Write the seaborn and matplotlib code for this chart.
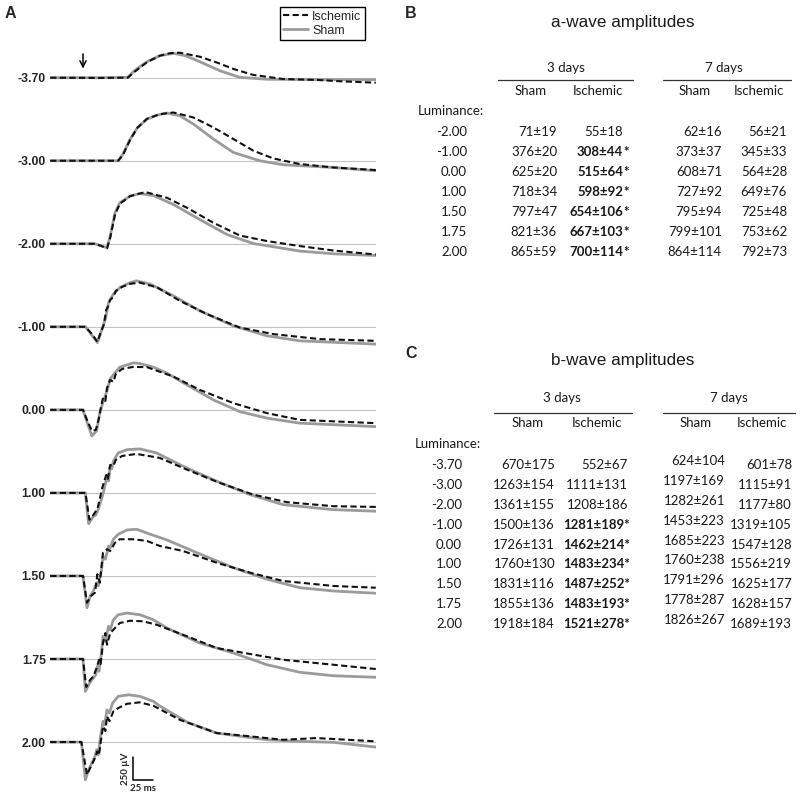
import matplotlib
matplotlib.use('Agg')
import matplotlib.pyplot as plt
import numpy as np
import pandas as pd
import seaborn as sns
from matplotlib.lines import Line2D

sns.set_style('white')
plt.rcParams['font.family'] = ['Liberation Sans', 'DejaVu Sans']

# ---------------- Panel A: ERG traces (time in ms from flash, amplitude in µV) ----------------
trace_lums = ['-3.70', '-3.00', '-2.00', '-1.00', '0.00', '1.00', '1.50', '1.75', '2.00']

sham_m370 = [(-41,0),(21,0),(56,4),(63,66),(71,121),(80,176),(96,242),(113,268),(128,242),(146,176),(171,77),(196,4),(230,-17),(271,-20),(366,-22)]
isch_m370 = [(-41,0),(21,-3),(56,0),(63,55),(71,110),(80,170),(96,242),(109,270),(121,275),(146,231),(168,165),(188,96),(213,30),(250,-14),(293,-25),(321,-39),(366,-55)]

sham_m300 = [(-41,0),(44,0),(50,74),(59,239),(68,363),(80,459),(93,503),(105,525),(121,495),(138,404),(163,239),(188,91),(221,0),(250,-44),(313,-74),(366,-110)]
isch_m300 = [(-41,0),(44,0),(50,66),(59,231),(68,363),(80,462),(96,512),(113,531),(138,476),(163,366),(188,239),(213,110),(238,25),(271,-36),(313,-74),(366,-102)]

sham_m200 = [(-41,0),(15,0),(23,-22),(30,-44),(34,85),(40,341),(46,451),(59,525),(71,553),(88,531),(113,432),(146,267),(180,102),(213,3),(271,-80),(313,-110),(366,-129)]
isch_m200 = [(-41,0),(15,0),(23,-25),(30,-50),(34,66),(40,319),(46,440),(59,525),(78,569),(105,506),(130,396),(163,231),(196,91),(230,30),(271,-25),(313,-74),(366,-118)]

sham_m100 = [(-41,0),(3,0),(11,-88),(18,-173),(23,-44),(28,85),(32,267),(38,360),(46,432),(59,487),(67,506),(84,470),(113,341),(146,176),(188,11),(230,-99),(271,-154),(366,-190)]
isch_m100 = [(-41,0),(3,0),(11,-77),(18,-165),(22,-66),(26,22),(29,187),(31,220),(34,297),(38,330),(41,396),(49,440),(59,473),(71,487),(93,432),(121,286),(155,140),(196,-8),(238,-80),(296,-135),(366,-154)]

sham_000 = [(-41,0),(0,0),(5,-132),(11,-286),(17,-231),(21,-33),(25,85),(30,209),(34,341),(39,396),(46,470),(63,517),(71,510),(88,470),(105,404),(130,275),(163,110),(196,-19),(230,-91),(271,-146),(366,-184)]
isch_000 = [(-41,0),(0,0),(5,-110),(11,-231),(16,-220),(20,-88),(23,55),(25,132),(28,99),(30,242),(34,330),(38,308),(41,396),(49,451),(63,473),(80,470),(113,366),(146,220),(188,74),(230,-36),(271,-110),(366,-146)]

sham_100 = [(-41,0),(3,0),(7,-338),(13,-256),(16,-242),(19,-184),(23,-74),(26,22),(30,184),(32,132),(34,294),(36,264),(38,349),(44,440),(55,476),(71,484),(92,440),(125,294),(167,129),(209,-19),(250,-129),(313,-184),(366,-201)]
isch_100 = [(-41,0),(3,0),(8,-294),(13,-242),(18,-176),(21,-66),(24,55),(26,110),(29,198),(31,154),(34,308),(38,297),(41,363),(49,407),(67,429),(96,385),(130,256),(171,110),(213,-19),(255,-102),(313,-146),(366,-154)]

sham_150 = [(-41,0),(0,0),(5,-349),(9,-220),(13,-165),(17,-74),(19,-110),(23,55),(25,220),(28,184),(32,330),(34,308),(38,404),(44,459),(55,506),(67,514),(84,459),(105,396),(146,242),(188,91),(230,-36),(271,-129),(313,-165),(366,-190)]
isch_150 = [(-41,0),(0,0),(5,-294),(10,-220),(15,-184),(18,19),(21,-74),(25,256),(30,294),(34,275),(40,366),(46,404),(63,404),(80,385),(96,330),(125,275),(167,146),(209,36),(250,-55),(313,-110),(366,-129)]

sham_175 = [(-41,0),(0,0),(3,-355),(7,-283),(11,-228),(16,-173),(18,-80),(20,-135),(23,66),(25,250),(28,195),(32,360),(34,322),(38,432),(44,487),(55,506),(71,487),(88,432),(105,341),(146,176),(188,66),(230,-63),(271,-146),(313,-184),(366,-201)]
isch_175 = [(-41,0),(0,0),(4,-308),(9,-228),(13,-190),(17,-99),(20,-8),(22,-55),(25,176),(28,286),(30,157),(34,286),(40,341),(46,396),(59,421),(75,415),(92,377),(130,250),(167,121),(209,55),(250,-8),(313,-63),(366,-110)]

sham_200 = [(-41,0),(-2,0),(3,-415),(7,-305),(11,-231),(15,-157),(17,-85),(19,-140),(22,63),(25,228),(27,190),(30,355),(33,319),(37,429),(44,503),(57,520),(71,503),(88,448),(96,396),(130,220),(167,99),(230,25),(271,8),(313,-3),(366,-55)]
isch_200 = [(-41,0),(-2,0),(5,-360),(10,-267),(14,-195),(18,-102),(20,-143),(22,-11),(25,173),(28,121),(30,283),(33,231),(38,338),(44,374),(55,421),(71,437),(88,399),(121,245),(167,99),(209,63),(250,25),(292,44),(366,8)]

sham_traces = [sham_m370, sham_m300, sham_m200, sham_m100, sham_000, sham_100, sham_150, sham_175, sham_200]
isch_traces = [isch_m370, isch_m300, isch_m200, isch_m100, isch_000, isch_100, isch_150, isch_175, isch_200]

# ---------------- Panel B: a-wave amplitudes ----------------
a_lum = ['-2.00', '-1.00', '0.00', '1.00', '1.50', '1.75', '2.00']
a_sham3_mean = [71, 376, 625, 718, 797, 821, 865]
a_sham3_sem = [19, 20, 20, 34, 47, 36, 59]
a_isch3_mean = [55, 308, 515, 598, 654, 667, 700]
a_isch3_sem = [18, 44, 64, 92, 106, 103, 114]
a_isch3_sig = [False, True, True, True, True, True, True]
a_sham7_mean = [62, 373, 608, 727, 795, 799, 864]
a_sham7_sem = [16, 37, 71, 92, 94, 101, 114]
a_isch7_mean = [56, 345, 564, 649, 725, 753, 792]
a_isch7_sem = [21, 33, 28, 76, 48, 62, 73]

# ---------------- Panel C: b-wave amplitudes ----------------
b_lum = ['-3.70', '-3.00', '-2.00', '-1.00', '0.00', '1.00', '1.50', '1.75', '2.00']
b_sham3_mean = [670, 1263, 1361, 1500, 1726, 1760, 1831, 1855, 1918]
b_sham3_sem = [175, 154, 155, 136, 131, 130, 116, 136, 184]
b_isch3_mean = [552, 1111, 1208, 1281, 1462, 1483, 1487, 1483, 1521]
b_isch3_sem = [67, 131, 186, 189, 214, 234, 252, 193, 278]
b_isch3_sig = [False, False, False, True, True, True, True, True, True]
b_sham7_mean = [624, 1197, 1282, 1453, 1685, 1760, 1791, 1778, 1826]
b_sham7_sem = [104, 169, 261, 223, 223, 238, 296, 287, 267]
b_isch7_mean = [601, 1115, 1177, 1319, 1547, 1556, 1625, 1628, 1689]
b_isch7_sem = [78, 91, 80, 105, 128, 219, 177, 157, 193]

# ---------------- figure ----------------
W, H = 800, 795
fig = plt.figure(figsize=(W / 100, H / 100), dpi=100)

OFFSET = 913.5  # vertical separation between stacked traces (µV)

rows = []
for i, lum in enumerate(trace_lums):
    for grp, tr in (('Sham', sham_traces[i]), ('Ischemic', isch_traces[i])):
        for t, v in tr:
            rows.append({'t': t, 'y': v - i * OFFSET, 'group': grp, 'unit': grp + lum})
df = pd.DataFrame(rows)

axA = fig.add_axes([50 / W, 0, 326 / W, 1])
x0, x1 = -41.25, 366.25
axA.set_xlim(x0, x1)
axA.set_ylim(-717.3 * 11, 77.7 * 11)

for i in range(len(trace_lums)):
    axA.hlines(-i * OFFSET, x0, x1, color='#c4c4c4', lw=0.8, zorder=1)

sns.lineplot(data=df, x='t', y='y', hue='group', style='group', size='group',
             units='unit', estimator=None, sort=False,
             hue_order=['Sham', 'Ischemic'],
             palette={'Sham': '#9b9b9b', 'Ischemic': '#111111'},
             dashes={'Sham': '', 'Ischemic': (3, 1.6)},
             sizes={'Sham': 2.0, 'Ischemic': 1.5},
             legend=False, ax=axA, zorder=3)

axA.set_yticks([-i * OFFSET for i in range(len(trace_lums))])
axA.set_yticklabels(trace_lums, fontsize=8.8, fontweight='bold')
axA.set_xticks([])
axA.tick_params(axis='y', length=0, pad=3)
axA.set_xlabel('')
axA.set_ylabel('')
for s in axA.spines.values():
    s.set_visible(False)

# flash arrow
axA.annotate('', xy=(0, 100), xytext=(0, 262),
             arrowprops=dict(arrowstyle='->', lw=1.1, color='black', mutation_scale=11,
                             shrinkA=0, shrinkB=0))

# scale bar (250 µV, 25 ms)
sbx, sby = 62.5, -7725
axA.plot([sbx, sbx, sbx + 25], [sby + 250, sby, sby], color='black', lw=1.1, clip_on=False)
axA.text(sbx - 4, sby + 125, '250 µV', rotation=90, ha='right', va='center', fontsize=7,
         family='Lato', fontweight='bold')
axA.text(sbx + 12.5, sby - 40, '25 ms', ha='center', va='top', fontsize=7, family='Lato',
         fontweight='bold')

legend_handles = [Line2D([0], [0], color='#111111', lw=1.5, dashes=(3, 1.6)),
                  Line2D([0], [0], color='#9b9b9b', lw=2.0)]
leg = fig.legend(legend_handles, ['Ischemic', 'Sham'], loc='upper right',
                 bbox_to_anchor=(365 / W, 1 - 7 / H), bbox_transform=fig.transFigure,
                 frameon=True, fancybox=False, edgecolor='black', framealpha=1,
                 fontsize=9, handlelength=2.0, handletextpad=0.3, borderpad=0.3,
                 labelspacing=0.15, borderaxespad=0)
leg.get_frame().set_linewidth(1.0)

fig.text(5 / W, 1 - 13 / H, 'A', fontsize=11.5, fontweight='bold', va='center', ha='left')

# ---------------- tables ----------------
axT = fig.add_axes([0.5, 0, 0.5, 1])
axT.set_xlim(400, 800)
axT.set_ylim(795, 0)
axT.axis('off')

TF = 'Lato'
TS = 9.5
TC = '#1a1a1a'


def pm(m, s):
    return f'{m}\u00b1{s}'


def table(top, title, lums, cols, sig, lum_x, col_x, row_y0, row_dy, lines, heads, star_whole,
          sham7_dy=0.0, lum_label_x=418):
    ttl_y, days_y, sub_y, luml_y = heads
    axT.text(623, top + ttl_y, title, ha='center', va='center', fontsize=12.3,
             family='Liberation Sans', color=TC)
    (l3a, l3b), (l7a, l7b), line_y, c3, c7, subs = lines
    axT.text(c3, top + days_y, '3 days', ha='center', va='center', fontsize=TS, family=TF, color=TC)
    axT.text(c7, top + days_y, '7 days', ha='center', va='center', fontsize=TS, family=TF, color=TC)
    axT.plot([l3a, l3b], [top + line_y] * 2, color='#333333', lw=0.9)
    axT.plot([l7a, l7b], [top + line_y] * 2, color='#333333', lw=0.9)
    for sx, lab in zip(subs, ['Sham', 'Ischemic', 'Sham', 'Ischemic']):
        axT.text(sx, top + sub_y, lab, ha='center', va='center', fontsize=TS, family=TF, color=TC)
    axT.text(lum_label_x, top + luml_y, 'Luminance:', ha='left', va='center', fontsize=TS,
             family=TF, color=TC)
    for r, lum in enumerate(lums):
        y = top + row_y0 + r * row_dy
        axT.text(lum_x, y, lum, ha='right', va='center', fontsize=TS, family=TF, color=TC)
        for c, (means, sems) in enumerate(cols):
            txt = pm(means[r], sems[r])
            yy = y + (sham7_dy if c == 2 else 0)
            if c == 1 and sig[r]:
                if star_whole:
                    axT.text(col_x[c] + 2, yy, txt + '*', ha='right', va='center', fontsize=TS,
                             family=TF, fontweight='bold', color=TC)
                else:
                    axT.text(col_x[c], yy, txt, ha='right', va='center', fontsize=TS,
                             family=TF, fontweight='bold', color=TC)
                    axT.text(col_x[c], yy, '*', ha='left', va='center', fontsize=TS,
                             family=TF, fontweight='bold', color=TC)
            else:
                axT.text(col_x[c], yy, txt, ha='right', va='center', fontsize=TS, family=TF, color=TC)


# panel B
fig.text(405 / W, 1 - 13 / H, 'B', fontsize=11.5, fontweight='bold', va='center', ha='left')
table(0, 'a-wave amplitudes', a_lum,
      [(a_sham3_mean, a_sham3_sem), (a_isch3_mean, a_isch3_sem),
       (a_sham7_mean, a_sham7_sem), (a_isch7_mean, a_isch7_sem)],
      a_isch3_sig, 467, [557, 623, 722, 787], 132, 20,
      ((498, 633), (663, 791), 80, 566, 724, [531, 598, 695, 759]),
      (23, 68, 91, 111), star_whole=False, lum_label_x=418)

# panel C
fig.text(405 / W, 1 - 354 / H, 'C', fontsize=11.5, fontweight='bold', va='center', ha='left')
table(0, 'b-wave amplitudes', b_lum,
      [(b_sham3_mean, b_sham3_sem), (b_isch3_mean, b_isch3_sem),
       (b_sham7_mean, b_sham7_sem), (b_isch7_mean, b_isch7_sem)],
      b_isch3_sig, 462, [555, 628, 725, 792], 465, 19.9,
      ((494, 632), (663, 795), 413, 562, 729, [528, 597, 696, 762]),
      (360, 398, 423, 444), star_whole=True, sham7_dy=-4, lum_label_x=415)

fig.savefig('out.png', dpi=100)
